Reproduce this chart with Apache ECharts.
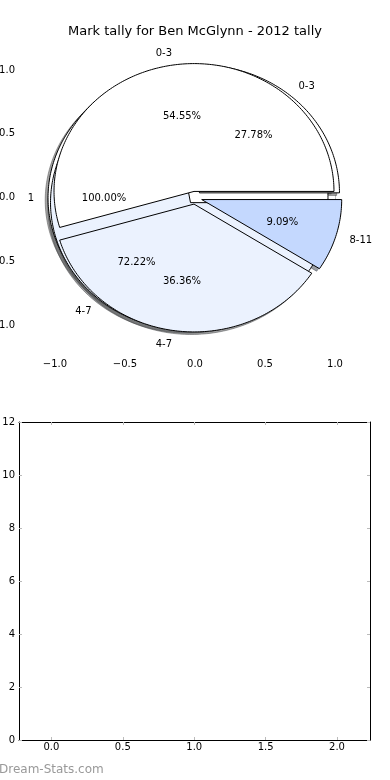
<!DOCTYPE html>
<html>
<head>
<meta charset="utf-8">
<script src="https://cdn.jsdelivr.net/npm/echarts@6/dist/echarts.min.js"></script>
<style>
html,body{margin:0;padding:0;background:#fff;}
#main{width:390px;height:780px;}
</style>
</head>
<body>
<div id="main"></div>
<script>
// ---- data ----
const titleText = 'Mark tally for Ben McGlynn - 2012 tally';
const pie1Labels = ['1'];
const pie1Values = [1];
const pie2Labels = ['0-3', '4-7'];
const pie2Values = [5, 13];
const pie3Labels = ['0-3', '4-7', '8-11'];
const pie3Values = [6, 4, 1];
const sliceColors = ['#ffffff', '#ebf2fe', '#c4d8fe'];
const pieXTicks = [-1, -0.5, 0, 0.5, 1];
const pieYTicks = [-1, -0.5, 0, 0.5, 1];
const barXTicks = [0, 0.5, 1, 1.5, 2];
const barYTicks = [0, 2, 4, 6, 8, 10, 12];

// ---- build wedges ----
const EXPLODE = 0.05, SHADOW = 0.02, LABELDIST = 1.1, PCTDIST = 0.6, RADIUS = 1;
const pies = [
  { labels: pie1Labels, values: pie1Values },
  { labels: pie2Labels, values: pie2Values },
  { labels: pie3Labels, values: pie3Values }
];
const wedges = [];
pies.forEach(p => {
  const total = p.values.reduce((a, b) => a + b, 0);
  let cum = 0;
  p.values.forEach((v, i) => {
    const frac = v / total;
    wedges.push({ t1: cum, t2: cum + frac, frac, label: p.labels[i], color: sliceColors[i % sliceColors.length] });
    cum += frac;
  });
});

function hexToRgb(h) {
  const n = parseInt(h.slice(1), 16);
  return [(n >> 16) & 255, (n >> 8) & 255, n & 255];
}
function wedgePoints(w, api, ox, oy) {
  const tm = Math.PI * (w.t1 + w.t2);
  const cx = EXPLODE * Math.cos(tm) + ox;
  const cy = EXPLODE * Math.sin(tm) + oy;
  const full = (w.t2 - w.t1) > 0.999999;
  const pts = [];
  if (!full) pts.push(api.coord([cx, cy]));
  const a1 = 2 * Math.PI * w.t1, a2 = 2 * Math.PI * w.t2;
  const n = Math.max(4, Math.ceil((w.t2 - w.t1) * 360));
  for (let k = 0; k <= n; k++) {
    const a = a1 + (a2 - a1) * k / n;
    pts.push(api.coord([cx + RADIUS * Math.cos(a), cy + RADIUS * Math.sin(a)]));
  }
  return pts;
}

const FONT = "'DejaVu Sans', sans-serif";
const fmtMinus = (v, d) => (v < 0 ? '\u2212' : '') + Math.abs(v).toFixed(d);
const tickStyle = { show: true, inside: true, length: 3, lineStyle: { color: '#bbbbbb', width: 1 } };
const labelStyle = { color: '#000', fontSize: 10, fontFamily: FONT };

const wedgeData = wedges.map(w => [w.t1, w.t2]);

const option = {
  animation: false,
  backgroundColor: '#fff',
  title: {
    text: titleText, left: 'center', top: 20,
    textStyle: { fontSize: 13, fontWeight: 'normal', color: '#000', fontFamily: FONT }
  },
  graphic: [{
    type: 'text', left: -1, top: 764,
    style: { text: 'Dream-Stats.com', fill: '#999999', font: "12px 'DejaVu Sans', sans-serif" }
  }],
  grid: [
    { left: 21, top: 40, width: 348, height: 315, containLabel: false, outerBoundsMode: 'none' },
    { left: 19, top: 422, width: 351, height: 318, containLabel: false, outerBoundsMode: 'none' }
  ],
  xAxis: [
    { gridIndex: 0, type: 'value', min: -1.243, max: 1.243, position: 'bottom',
      axisLine: { show: false }, splitLine: { show: false },
      axisTick: Object.assign({ customValues: pieXTicks }, tickStyle),
      axisLabel: Object.assign({ customValues: pieXTicks, margin: 4, formatter: v => fmtMinus(v, 1) }, labelStyle) },
    { gridIndex: 0, type: 'value', min: -1.243, max: 1.243, position: 'top',
      axisLine: { show: false }, splitLine: { show: false },
      axisTick: Object.assign({ customValues: pieXTicks }, tickStyle),
      axisLabel: { show: false } },
    { gridIndex: 1, type: 'value', min: -0.227, max: 2.231, position: 'bottom',
      axisLine: { show: true, onZero: false, lineStyle: { color: '#000', width: 1 } }, splitLine: { show: false },
      axisTick: Object.assign({ customValues: barXTicks }, tickStyle),
      axisLabel: Object.assign({ customValues: barXTicks, margin: 2, formatter: v => fmtMinus(v, 1) }, labelStyle) },
    { gridIndex: 1, type: 'value', min: -0.227, max: 2.231, position: 'top',
      axisLine: { show: true, onZero: false, lineStyle: { color: '#000', width: 1 } }, splitLine: { show: false },
      axisTick: Object.assign({ customValues: barXTicks }, tickStyle),
      axisLabel: { show: false } }
  ],
  yAxis: [
    { gridIndex: 0, type: 'value', min: -1.23, max: 1.234, position: 'left',
      axisLine: { show: false }, splitLine: { show: false },
      axisTick: Object.assign({ customValues: pieYTicks }, tickStyle),
      axisLabel: Object.assign({ customValues: pieYTicks, margin: 6, formatter: v => fmtMinus(v, 1) }, labelStyle) },
    { gridIndex: 0, type: 'value', min: -1.23, max: 1.234, position: 'right',
      axisLine: { show: false }, splitLine: { show: false },
      axisTick: Object.assign({ customValues: pieYTicks }, tickStyle),
      axisLabel: { show: false } },
    { gridIndex: 1, type: 'value', min: 0, max: 12, position: 'left',
      axisLine: { show: true, onZero: false, lineStyle: { color: '#000', width: 1 } }, splitLine: { show: false },
      axisTick: Object.assign({ customValues: barYTicks }, tickStyle),
      axisLabel: Object.assign({ customValues: barYTicks, margin: 4, formatter: v => String(v) }, labelStyle) },
    { gridIndex: 1, type: 'value', min: 0, max: 12, position: 'right',
      axisLine: { show: true, onZero: false, lineStyle: { color: '#000', width: 1 } }, splitLine: { show: false },
      axisTick: Object.assign({ customValues: barYTicks }, tickStyle),
      axisLabel: { show: false } }
  ],
  series: [
    { // shadows
      type: 'custom', xAxisIndex: 0, yAxisIndex: 0, clip: false, z: 1, silent: true,
      data: wedgeData,
      renderItem: (params, api) => {
        const w = wedges[params.dataIndex];
        const [r, g, b] = hexToRgb(w.color);
        const c = `rgba(${Math.round(r * 0.3)},${Math.round(g * 0.3)},${Math.round(b * 0.3)},0.5)`;
        return { type: 'polygon', shape: { points: wedgePoints(w, api, -SHADOW, -SHADOW) },
          style: { fill: c, stroke: c, lineWidth: 1 } };
      }
    },
    { // wedges
      type: 'custom', xAxisIndex: 0, yAxisIndex: 0, clip: false, z: 2, silent: true,
      data: wedgeData,
      renderItem: (params, api) => {
        const w = wedges[params.dataIndex];
        return { type: 'polygon', shape: { points: wedgePoints(w, api, 0, 0) },
          style: { fill: w.color, stroke: '#000', lineWidth: 1, lineJoin: 'miter' } };
      }
    },
    { // labels
      type: 'custom', xAxisIndex: 0, yAxisIndex: 0, clip: false, z: 3, silent: true,
      data: wedgeData,
      renderItem: (params, api) => {
        const w = wedges[params.dataIndex];
        const tm = Math.PI * (w.t1 + w.t2);
        const cx = EXPLODE * Math.cos(tm), cy = EXPLODE * Math.sin(tm);
        const lx = cx + LABELDIST * RADIUS * Math.cos(tm), ly = cy + LABELDIST * RADIUS * Math.sin(tm);
        const px = cx + PCTDIST * RADIUS * Math.cos(tm), py = cy + PCTDIST * RADIUS * Math.sin(tm);
        const lp = api.coord([lx, ly]), pp = api.coord([px, py]);
        return { type: 'group', children: [
          { type: 'text', x: lp[0], y: lp[1] + 1,
            style: { text: w.label, fill: '#000', font: "10px 'DejaVu Sans', sans-serif",
              align: lx > 0 ? 'left' : 'right', verticalAlign: 'middle' } },
          { type: 'text', x: pp[0], y: pp[1] + 1,
            style: { text: (100 * w.frac).toFixed(2) + '%', fill: '#000', font: "10px 'DejaVu Sans', sans-serif",
              align: 'center', verticalAlign: 'middle' } }
        ] };
      }
    }
  ]
};
echarts.init(document.getElementById('main'), null, { renderer: 'canvas' }).setOption(option);
</script>
</body>
</html>
